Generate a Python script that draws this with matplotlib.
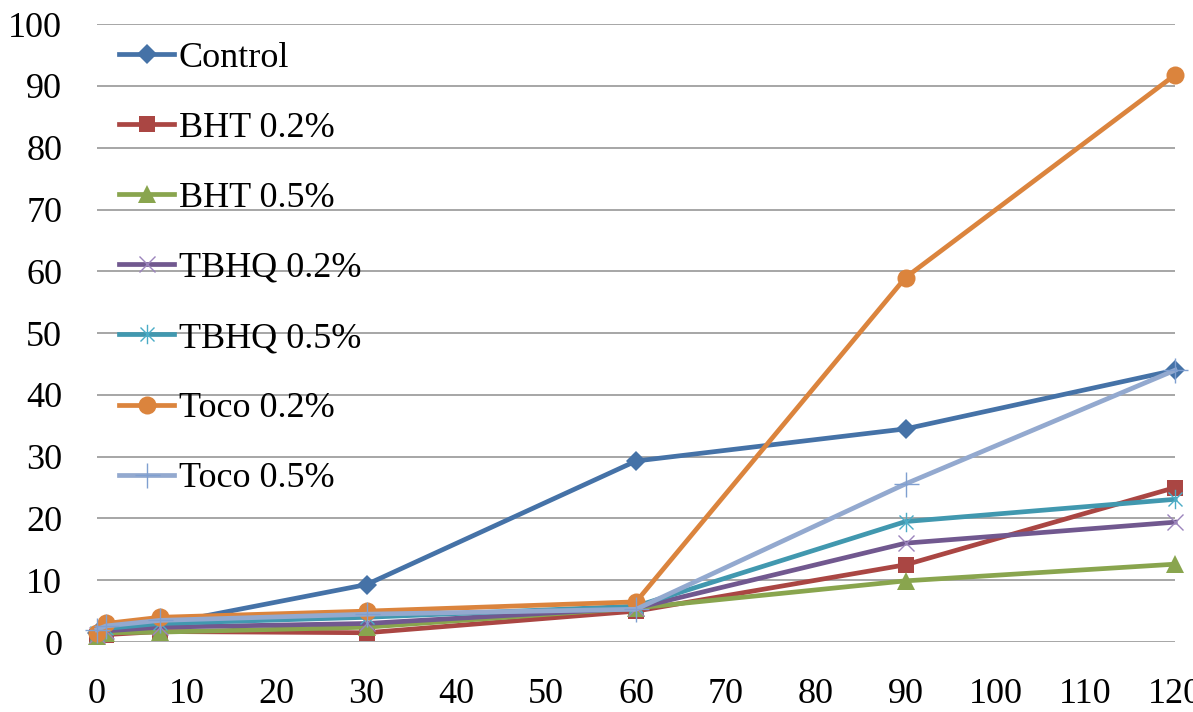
import matplotlib
matplotlib.use("Agg")
import matplotlib.pyplot as plt
from matplotlib.path import Path

plt.rcParams['font.family'] = ['Liberation Serif', 'DejaVu Serif']

days = [0, 1, 7, 30, 60, 90, 120]
control = [1.5, 2.0, 2.8, 9.3, 29.3, 34.5, 44.0]
bht02 = [0.8, 1.2, 1.7, 1.5, 5.0, 12.5, 25.0]
bht05 = [1.0, 1.5, 1.6, 2.4, 5.5, 9.9, 12.6]
tbhq02 = [1.2, 1.8, 2.4, 3.0, 5.5, 16.0, 19.4]
tbhq05 = [1.5, 2.2, 3.0, 4.0, 5.8, 19.5, 23.1]
toco02 = [1.4, 3.0, 4.0, 5.0, 6.5, 59.0, 91.8]
toco05 = [2.0, 2.6, 3.5, 4.5, 5.3, 25.6, 44.0]

labels = ["Control", "BHT 0.2%", "BHT 0.5%", "TBHQ 0.2%", "TBHQ 0.5%", "Toco 0.2%", "Toco 0.5%"]
xticks = [0, 10, 20, 30, 40, 50, 60, 70, 80, 90, 100, 110, 120]
yticks = [0, 10, 20, 30, 40, 50, 60, 70, 80, 90, 100]

star = Path([(0, -1), (0, 1), (-0.72, -0.72), (0.72, 0.72), (-0.72, 0.72), (0.72, -0.72)],
            [Path.MOVETO, Path.LINETO, Path.MOVETO, Path.LINETO, Path.MOVETO, Path.LINETO])

styles = [
    dict(color="#4572A7", marker="D", ms=10, mew=0),
    dict(color="#AA4643", marker="s", ms=11, mew=0),
    dict(color="#89A54E", marker="^", ms=13, mew=0),
    dict(color="#71588F", marker="x", ms=12, mew=1.0, mec="#9B84BC"),
    dict(color="#4198AF", marker=star, ms=14, mew=1.0, mec="#4BACC6"),
    dict(color="#DB843D", marker="o", ms=13, mew=0),
    dict(color="#93A9CF", marker="+", ms=18, mew=1.0, mec="#7F9FD0"),
]
series = [control, bht02, bht05, tbhq02, tbhq05, toco02, toco05]

FS = 26

fig = plt.figure(figsize=(11.93, 7.12), dpi=100)
ax = fig.add_axes([0.0813, 0.0983, 0.9037, 0.8677])

for vals, lab, st in zip(series, labels, styles):
    ax.plot(days, vals, label=lab, lw=3.4, clip_on=False, zorder=3, **st)

ax.set_xlim(0, 120)
ax.set_ylim(0, 100)
ax.set_xticks(xticks)
ax.set_yticks(yticks)
ax.tick_params(axis='both', length=0, labelsize=FS, colors='black')
ax.tick_params(axis='x', pad=26)
ax.tick_params(axis='y', pad=25)
ax.grid(axis='y', color='#A6A6A6', lw=1.4)
ax.set_axisbelow(True)
for s in ax.spines.values():
    s.set_visible(False)

leg = ax.legend(loc='upper left', bbox_to_anchor=(0.014, 0.984), frameon=False, fontsize=FS,
                handlelength=1.52, handletextpad=0.12, labelspacing=1.02, borderaxespad=0.0,
                borderpad=0.2)

fig.savefig("out.png", dpi=100)
